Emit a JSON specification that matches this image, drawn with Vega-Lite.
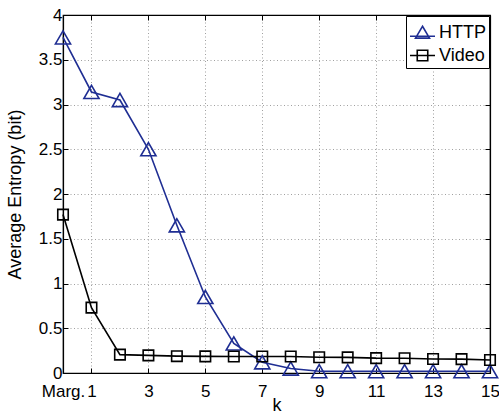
{
  "$schema": "https://vega.github.io/schema/vega-lite/v6.json",
  "width": 427,
  "height": 358,
  "autosize": {"type": "none"},
  "padding": {"left": 63, "top": 15, "right": 9, "bottom": 43},
  "background": "white",
  "config": {
    "view": {"stroke": "black", "strokeWidth": 1.2},
    "font": "Liberation Sans",
    "axis": {
      "domainColor": "black",
      "domainWidth": 1.2,
      "tickColor": "black",
      "tickSize": -5,
      "labelColor": "black",
      "labelFont": "Liberation Sans",
      "labelFontSize": 17,
      "labelOverlap": false,
      "labelFlush": false,
      "titleFont": "Liberation Sans",
      "titleFontSize": 18,
      "titleFontWeight": "normal",
      "titleColor": "black",
      "gridColor": "#a0a0a0",
      "gridDash": [1, 2.5],
      "gridWidth": 1
    }
  },
  "data": {
    "values": [
      {"k": 0, "series": "HTTP", "value": 3.75},
      {"k": 1, "series": "HTTP", "value": 3.14},
      {"k": 2, "series": "HTTP", "value": 3.05},
      {"k": 3, "series": "HTTP", "value": 2.5},
      {"k": 4, "series": "HTTP", "value": 1.65},
      {"k": 5, "series": "HTTP", "value": 0.85},
      {"k": 6, "series": "HTTP", "value": 0.33},
      {"k": 7, "series": "HTTP", "value": 0.12},
      {"k": 8, "series": "HTTP", "value": 0.05},
      {"k": 9, "series": "HTTP", "value": 0.02},
      {"k": 10, "series": "HTTP", "value": 0.02},
      {"k": 11, "series": "HTTP", "value": 0.02},
      {"k": 12, "series": "HTTP", "value": 0.02},
      {"k": 13, "series": "HTTP", "value": 0.02},
      {"k": 14, "series": "HTTP", "value": 0.02},
      {"k": 15, "series": "HTTP", "value": 0.02},
      {"k": 0, "series": "Video", "value": 1.77},
      {"k": 1, "series": "Video", "value": 0.73},
      {"k": 2, "series": "Video", "value": 0.205},
      {"k": 3, "series": "Video", "value": 0.197},
      {"k": 4, "series": "Video", "value": 0.188},
      {"k": 5, "series": "Video", "value": 0.186},
      {"k": 6, "series": "Video", "value": 0.185},
      {"k": 7, "series": "Video", "value": 0.185},
      {"k": 8, "series": "Video", "value": 0.184},
      {"k": 9, "series": "Video", "value": 0.176},
      {"k": 10, "series": "Video", "value": 0.175},
      {"k": 11, "series": "Video", "value": 0.166},
      {"k": 12, "series": "Video", "value": 0.165},
      {"k": 13, "series": "Video", "value": 0.157},
      {"k": 14, "series": "Video", "value": 0.155},
      {"k": 15, "series": "Video", "value": 0.145}
    ]
  },
  "layer": [
    {
      "mark": {"type": "line", "strokeWidth": 1.6},
      "encoding": {
        "x": {
          "field": "k", "type": "quantitative",
          "scale": {"domain": [0, 15], "nice": false},
          "axis": {
            "orient": "bottom",
            "title": "k",
            "values": [0, 1, 3, 5, 7, 9, 11, 13, 15],
            "labelExpr": "datum.value === 0 ? 'Marg.' : datum.label",
            "labelPadding": 15,
            "titlePadding": -3,
            "grid": true
          }
        },
        "y": {
          "field": "value", "type": "quantitative",
          "scale": {"domain": [0, 4], "nice": false},
          "axis": {
            "orient": "left",
            "title": "Average Entropy (bit)",
            "values": [0, 0.5, 1, 1.5, 2, 2.5, 3, 3.5, 4],
            "format": "~g",
            "labelPadding": 6,
            "titlePadding": 14,
            "grid": true
          }
        },
        "color": {
          "field": "series", "type": "nominal",
          "scale": {"domain": ["HTTP", "Video"], "range": ["#1f2e93", "#000000"]},
          "legend": {
            "title": null,
            "orient": "top-right",
            "offset": 1,
            "strokeColor": "black",
            "fillColor": "white",
            "padding": 3,
            "rowPadding": 0,
            "symbolSize": 625,
            "symbolStrokeWidth": 1.6,
            "symbolFillColor": "transparent",
            "labelFontSize": 18,
            "labelFont": "Liberation Sans",
            "labelColor": "black",
            "labelOffset": 3,
            "encode": {
              "symbols": {
                "update": {
                  "shape": {"signal": "datum.value === 'HTTP' ? 'M-1,0.3H1M0,-0.5L0.56,0.45L-0.56,0.45Z' : 'M-1,0H1M-0.42,-0.42H0.42V0.42H-0.42Z'"},
                  "size": {"value": 625}
                }
              }
            }
          }
        }
      }
    },
    {
      "transform": [{"filter": "datum.series === 'HTTP'"}],
      "mark": {"type": "point", "filled": false, "strokeWidth": 1.6, "opacity": 1, "shape": "triangle-up", "size": 230},
      "encoding": {
        "x": {
          "field": "k", "type": "quantitative",
          "axis": {"orient": "top", "title": null, "labels": false, "grid": false, "values": [0, 1, 3, 5, 7, 9, 11, 13, 15]}
        },
        "y": {
          "field": "value", "type": "quantitative",
          "axis": {"orient": "right", "title": null, "labels": false, "grid": false, "values": [0, 0.5, 1, 1.5, 2, 2.5, 3, 3.5, 4]}
        },
        "color": {
          "field": "series", "type": "nominal",
          "scale": {"domain": ["HTTP", "Video"], "range": ["#1f2e93", "#000000"]}
        }
      }
    },
    {
      "transform": [{"filter": "datum.series === 'Video'"}],
      "mark": {"type": "point", "filled": false, "strokeWidth": 1.6, "opacity": 1, "shape": "square", "size": 110},
      "encoding": {
        "x": {"field": "k", "type": "quantitative", "axis": null},
        "y": {"field": "value", "type": "quantitative", "axis": null},
        "color": {
          "field": "series", "type": "nominal",
          "scale": {"domain": ["HTTP", "Video"], "range": ["#1f2e93", "#000000"]}
        }
      }
    }
  ],
  "resolve": {"axis": {"x": "independent", "y": "independent"}}
}
